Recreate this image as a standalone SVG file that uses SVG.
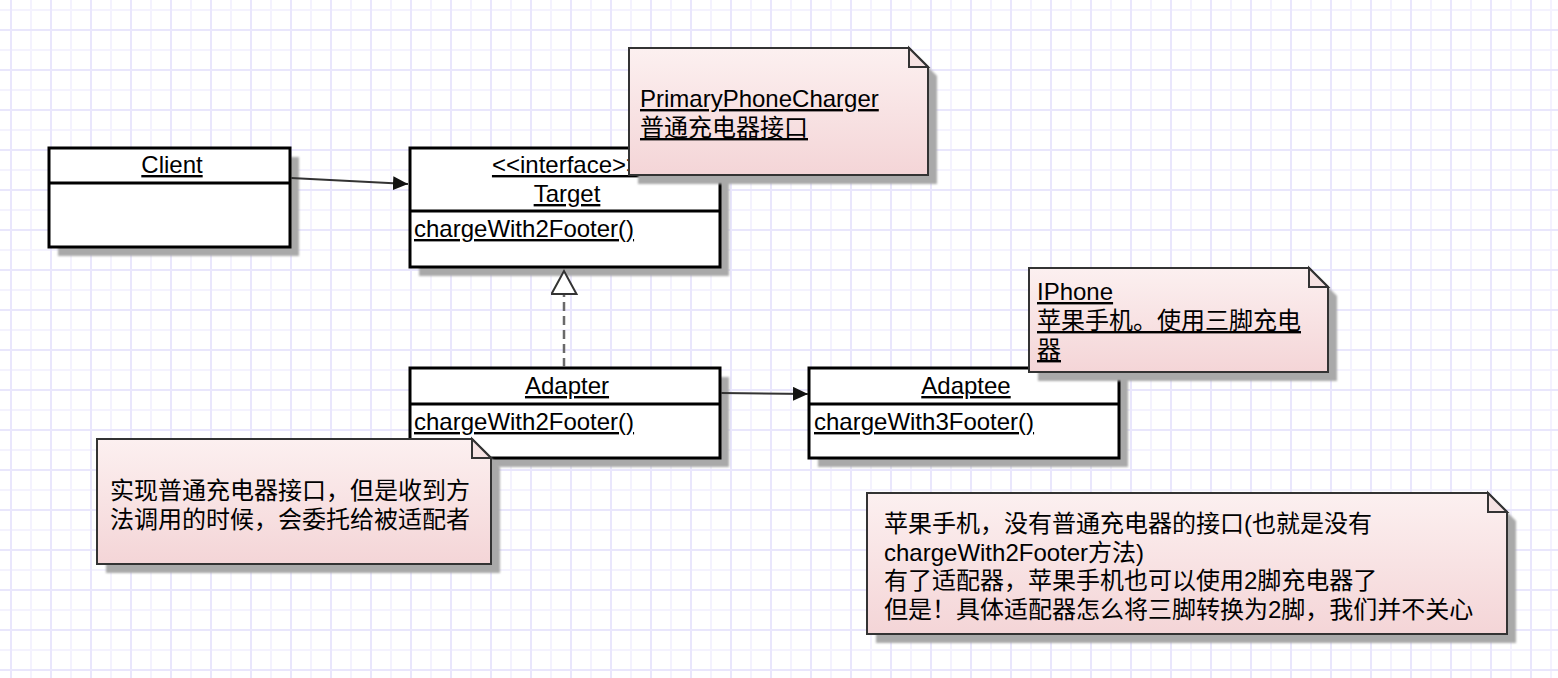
<svg xmlns="http://www.w3.org/2000/svg" width="1558" height="678" viewBox="0 0 1558 678">
<style>
.box{fill:#fff;stroke:#000;stroke-width:3}
.shadow{fill:#a9a9a9;filter:url(#blur)}
.note{fill:url(#noteGrad);stroke:#333;stroke-width:2}
.fold{fill:#f6e3e3;stroke:#333;stroke-width:2;stroke-linejoin:miter}
.t{font-family:"Liberation Sans","Noto Sans CJK SC",sans-serif;font-size:24px;fill:#000}
.u{text-decoration:underline}
.c{text-anchor:middle}
.edge{stroke:#333;stroke-width:2;fill:none}
.dash{stroke:#6a6a6a;stroke-width:2.5;stroke-dasharray:9 5;fill:none}
</style>
<defs>
<pattern id="grid" width="40" height="40" patternUnits="userSpaceOnUse">
<rect width="40" height="40" fill="#fff"/>
<line x1="31" y1="0" x2="31" y2="40" stroke="#f4f2fe" stroke-width="2"/>
<line x1="0" y1="10" x2="40" y2="10" stroke="#f4f2fe" stroke-width="2"/>
<line x1="11" y1="0" x2="11" y2="40" stroke="#e9e6fc" stroke-width="2"/>
<line x1="0" y1="30" x2="40" y2="30" stroke="#e9e6fc" stroke-width="2"/>
</pattern>
<linearGradient id="noteGrad" x1="0" y1="0" x2="0" y2="1">
<stop offset="0" stop-color="#fcf0f0"/>
<stop offset="1" stop-color="#f4d5d7"/>
</linearGradient>
<filter id="blur" x="-5%" y="-5%" width="110%" height="110%">
<feGaussianBlur stdDeviation="1.2"/>
</filter>
<marker id="arrow" markerUnits="userSpaceOnUse" markerWidth="16" markerHeight="16" refX="15" refY="7" orient="auto">
<path d="M0,0 L15,7 L0,14 Z" fill="#111"/>
</marker>
<marker id="hollow" markerUnits="userSpaceOnUse" markerWidth="28" markerHeight="30" refX="24" refY="13.5" orient="auto">
<path d="M1,1 L24,13.5 L1,26 Z" fill="#fff" stroke="#333" stroke-width="2" stroke-dasharray="none"/>
</marker>
</defs>

<rect width="1558" height="678" fill="url(#grid)"/>

<g id="client">
<rect class="shadow" x="58" y="157" width="241" height="99"/>
<rect class="box" x="49" y="148" width="241" height="99"/>
<line x1="49" y1="183" x2="290" y2="183" stroke="#000" stroke-width="3"/>
<text class="t u c" x="172" y="173">Client</text>
</g>

<g id="target">
<rect class="shadow" x="419" y="157" width="310" height="119"/>
<rect class="box" x="410" y="148" width="310" height="119"/>
<line x1="410" y1="211" x2="720" y2="211" stroke="#000" stroke-width="3"/>
<text class="t u c" x="566" y="173">&lt;&lt;interface&gt;&gt;</text>
<text class="t u c" x="567" y="202">Target</text>
<text class="t u" x="414" y="237">chargeWith2Footer()</text>
</g>

<g id="adapter">
<rect class="shadow" x="419" y="377" width="310" height="90"/>
<rect class="box" x="410" y="368" width="310" height="90"/>
<line x1="410" y1="404" x2="720" y2="404" stroke="#000" stroke-width="3"/>
<text class="t u c" x="567" y="394">Adapter</text>
<text class="t u" x="414" y="430">chargeWith2Footer()</text>
</g>

<g id="adaptee">
<rect class="shadow" x="818" y="377" width="310" height="90"/>
<rect class="box" x="809" y="368" width="310" height="90"/>
<line x1="809" y1="404" x2="1119" y2="404" stroke="#000" stroke-width="3"/>
<text class="t u c" x="966" y="394">Adaptee</text>
<text class="t u" x="814" y="430">chargeWith3Footer()</text>
</g>

<g id="connectors">
<line class="edge" x1="291" y1="178" x2="408" y2="184" marker-end="url(#arrow)"/>
<line class="edge" x1="721" y1="393" x2="808" y2="394" marker-end="url(#arrow)"/>
<line class="dash" x1="564" y1="367" x2="564" y2="271" marker-end="url(#hollow)"/>
</g>

<g id="note-primary">
<path class="shadow" d="M638,57 H918 L937,76 V184 H638 Z"/>
<path class="note" d="M629,48 H909 L928,67 V175 H629 Z"/>
<path class="fold" d="M909,48 V67 H928 Z"/>
<text class="t u" x="640" y="107">PrimaryPhoneCharger</text>
<text class="t u" x="640" y="136">普通充电器接口</text>
</g>

<g id="note-iphone">
<path class="shadow" d="M1038,277 H1318 L1337,296 V381 H1038 Z"/>
<path class="note" d="M1029,268 H1309 L1328,287 V372 H1029 Z"/>
<path class="fold" d="M1309,268 V287 H1328 Z"/>
<text class="t u" x="1037" y="300">IPhone</text>
<text class="t u" x="1037" y="329">苹果手机。使用三脚充电</text>
<text class="t u" x="1037" y="358">器</text>
</g>

<g id="note-adapter">
<path class="shadow" d="M106,448 H481 L500,467 V573 H106 Z"/>
<path class="note" d="M97,439 H472 L491,458 V564 H97 Z"/>
<path class="fold" d="M472,439 V458 H491 Z"/>
<text class="t" x="110" y="499">实现普通充电器接口，但是收到方</text>
<text class="t" x="110" y="528">法调用的时候，会委托给被适配者</text>
</g>

<g id="note-summary">
<path class="shadow" d="M876,502 H1497 L1516,521 V643 H876 Z"/>
<path class="note" d="M867,493 H1488 L1507,512 V634 H867 Z"/>
<path class="fold" d="M1488,493 V512 H1507 Z"/>
<text class="t" x="884" y="532">苹果手机，没有普通充电器的接口(也就是没有</text>
<text class="t" x="884" y="561">chargeWith2Footer方法)</text>
<text class="t" x="884" y="589">有了适配器，苹果手机也可以使用2脚充电器了</text>
<text class="t" x="884" y="618">但是！具体适配器怎么将三脚转换为2脚，我们并不关心</text>
</g>
</svg>
